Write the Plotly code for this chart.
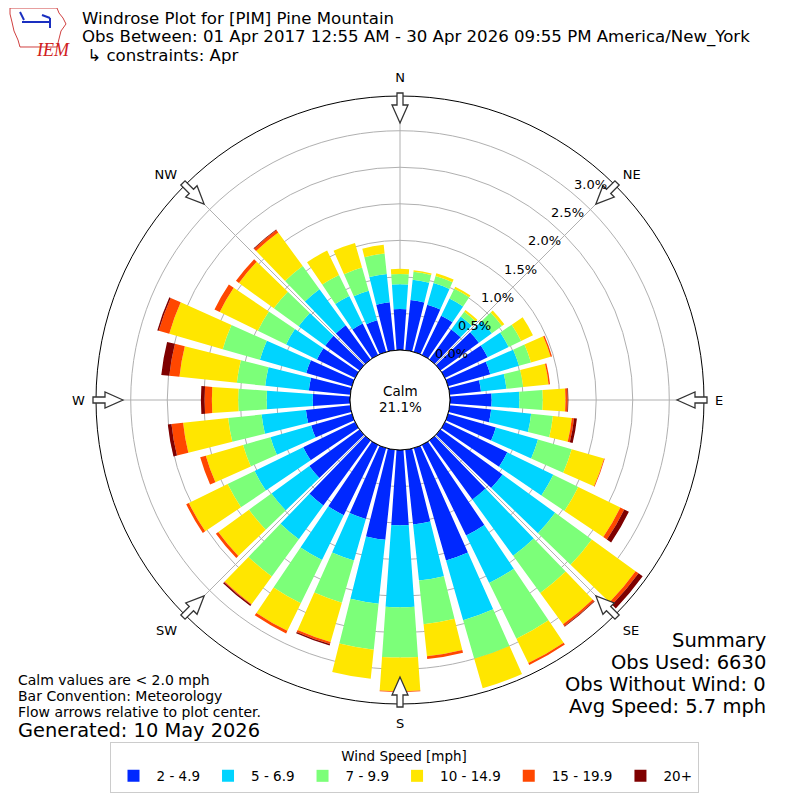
import math
import plotly.graph_objects as go

# wind directions (deg, meteorological) and speed bins
directions = list(range(0, 360, 10))
speed_bins = ['2 - 4.9', '5 - 6.9', '7 - 9.9', '10 - 14.9', '15 - 19.9', '20+']
bin_colors = ['#0028ff', '#00d4ff', '#7cff79', '#ffe600', '#ff4700', '#7f0000']

# frequency [%] per direction for each speed bin
pct_2_5 = [0.56, 0.69, 0.67, 0.60, 0.51, 0.65, 0.65, 0.60, 0.43, 0.57, 0.57, 0.68,
           0.95, 1.05, 1.00, 1.38, 1.60, 1.03, 1.03, 1.24, 1.01, 1.07, 1.10, 0.85,
           0.79, 0.58, 0.61, 0.51, 0.57, 0.65, 0.58, 0.58, 0.58, 0.48, 0.45, 0.66]
pct_5_7 = [0.34, 0.28, 0.31, 0.26, 0.22, 0.22, 0.32, 0.41, 0.35, 0.38, 0.55, 0.60,
           0.70, 0.89, 0.95, 0.72, 0.85, 0.77, 1.12, 0.88, 0.59, 0.68, 0.57, 0.64,
           0.74, 0.58, 0.61, 0.63, 0.60, 0.66, 0.47, 0.45, 0.61, 0.42, 0.42, 0.39]
pct_7_10 = [0.14, 0.11, 0.10, 0.15, 0.08, 0.17, 0.19, 0.17, 0.23, 0.32, 0.30, 0.48,
            0.38, 0.62, 0.63, 0.85, 0.55, 0.60, 0.69, 0.63, 0.60, 0.66, 0.63, 0.38,
            0.41, 0.39, 0.46, 0.39, 0.39, 0.53, 0.43, 0.42, 0.39, 0.32, 0.33, 0.28]
pct_10_15 = [0.07, 0.02, 0.04, 0.03, 0.03, 0.04, 0.18, 0.28, 0.35, 0.31, 0.26, 0.46,
             0.64, 0.74, 0.53, 0.37, 0.42, 0.44, 0.46, 0.40, 0.56, 0.42, 0.47, 0.52,
             0.59, 0.53, 0.62, 0.36, 0.79, 0.76, 0.58, 0.59, 0.57, 0.37, 0.35, 0.12]
pct_15_20 = [0, 0, 0, 0, 0, 0, 0, 0.02, 0.02, 0.03, 0.03, 0.01,
             0.06, 0.05, 0.03, 0.03, 0, 0.04, 0.01, 0, 0.03, 0.04, 0.01, 0.04,
             0.04, 0.08, 0.16, 0.10, 0.14, 0.15, 0.08, 0.05, 0.04, 0, 0, 0]
pct_20_up = [0, 0, 0, 0, 0, 0, 0, 0, 0, 0.01, 0.04, 0,
             0.07, 0.07, 0.01, 0, 0, 0, 0, 0, 0.02, 0, 0.02, 0,
             0, 0, 0.05, 0.05, 0.11, 0.02, 0, 0, 0.01, 0, 0, 0]

radial_ticks = [0.0, 0.5, 1.0, 1.5, 2.0, 2.5, 3.0]
tick_labels = ['0.0%', '0.5%', '1.0%', '1.5%', '2.0%', '2.5%', '3.0%']
compass = ['N', 'NE', 'E', 'SE', 'S', 'SW', 'W', 'NW']
calm_pct = 21.1
r_max = 3.475
label_angle = 39.4  # direction of the radial tick labels

fig = go.Figure()
series = [pct_2_5, pct_5_7, pct_7_10, pct_10_15, pct_15_20, pct_20_up]
for name, vals, col in zip(speed_bins, series, bin_colors):
    fig.add_trace(go.Barpolar(r=vals, theta=directions, width=8, name=name,
                              marker=dict(color=col, line=dict(width=0))))

# the page has an 8px body margin, so the figure is 792px and shifted by 8px
OFF = 8
W = 800 - OFF
cx, cy, R, R_hole = 400, 400, 304, 50


def px(x, y):
    # page pixel -> paper coords
    return (x - OFF) / W, 1 - (y - OFF) / W


dx0, dy1 = px(cx - R, cy - R)
dx1, dy0 = px(cx + R, cy + R)

fig.update_layout(
    width=W, height=W,
    margin=dict(l=0, r=0, t=0, b=0),
    paper_bgcolor='white',
    font=dict(family='DejaVu Sans', size=13, color='black'),
    polar=dict(
        domain=dict(x=[dx0, dx1], y=[dy0, dy1]),
        hole=R_hole / R,
        bgcolor='white',
        barmode='stack',
        radialaxis=dict(range=[0, r_max], tickvals=radial_ticks, showticklabels=False,
                        angle=45, showline=False, ticks='',
                        gridcolor='#b0b0b0', gridwidth=1),
        angularaxis=dict(direction='clockwise', rotation=90,
                         tickmode='array', tickvals=list(range(0, 360, 45)),
                         ticktext=compass, ticks='outside', ticklen=8,
                         tickcolor='rgba(0,0,0,0)', showline=True, linecolor='black',
                         linewidth=1, gridcolor='#b0b0b0', gridwidth=1,
                         tickfont=dict(size=13)),
    ),
    legend=dict(orientation='h', x=0.5, xanchor='center', y=px(0, 742)[1], yanchor='top',
                title=dict(text='Wind Speed [mph]', side='top center', font=dict(size=13.5)),
                bordercolor='#cccccc', borderwidth=1, bgcolor='white',
                font=dict(size=13.5), itemwidth=36),
)

# calm circle
x0, y0 = px(cx - R_hole, cy + R_hole)
x1, y1 = px(cx + R_hole, cy - R_hole)
fig.add_shape(type='circle', xref='paper', yref='paper', x0=x0, y0=y0, x1=x1, y1=y1,
              line=dict(color='black', width=1), fillcolor='white')

# flow arrows at the compass points, pointing to the centre
outline = [(277, 0), (295, 8), (295, 3), (307, 3), (307, -3), (295, -3), (295, -8)]
for ang in range(0, 360, 45):
    a = math.radians(ang)
    ux, uy = math.sin(a), -math.cos(a)
    vx, vy = math.cos(a), math.sin(a)
    pts = []
    for rr, ww in outline:
        X, Y = px(cx + rr * ux + ww * vx, cy + rr * uy + ww * vy)
        pts.append('%.5f %.5f' % (X, Y))
    fig.add_shape(type='path', xref='paper', yref='paper',
                  path='M ' + ' L '.join(pts) + ' Z',
                  line=dict(color='#333333', width=1.3), fillcolor='white')

# radial tick labels (on top of the bars, like matplotlib)
la = math.radians(label_angle)
for v, t in zip(radial_ticks, tick_labels):
    rp = R_hole + v / r_max * (R - R_hole)
    X, Y = px(cx + rp * math.sin(la), cy - rp * math.cos(la))
    fig.add_annotation(x=X, y=Y, xref='paper', yref='paper', text=t, showarrow=False,
                       xanchor='left', yanchor='bottom', xshift=1, yshift=-2,
                       font=dict(size=13))

# IEM logo (rough)
iowa = [(10, 8), (57, 8), (59, 13), (63, 18), (66, 24), (61, 31), (59, 39), (57, 47),
        (20, 47), (18, 40), (14, 31), (12, 22), (10, 14)]
fig.add_shape(type='path', xref='paper', yref='paper',
              path='M ' + ' L '.join('%.5f %.5f' % px(x, y) for x, y in iowa) + ' Z',
              line=dict(color='#d04040', width=1))
for (xa, ya, xb, yb) in [(22, 22, 50, 22), (20, 12, 24, 20), (42, 15, 50, 18), (50, 18, 50, 28)]:
    X0, Y0 = px(xa, ya)
    X1, Y1 = px(xb, yb)
    fig.add_shape(type='line', xref='paper', yref='paper', x0=X0, y0=Y0, x1=X1, y1=Y1,
                  line=dict(color='#1a2fc0', width=2))
fig.add_annotation(x=px(34, 38)[0], y=px(34, 38)[1], xref='paper', yref='paper',
                   text='<i>IEM</i>', showarrow=False,
                   font=dict(family='Liberation Serif', size=18, color='#d02020'))


def label(x, y, text, size, anchor='left'):
    X, Y = px(x, y)
    fig.add_annotation(x=X, y=Y, xref='paper', yref='paper', text=text, showarrow=False,
                       xanchor=anchor, yanchor='middle', font=dict(size=size))


label(80, 19, 'Windrose Plot for [PIM] Pine Mountain', 16.6)
label(80, 37, 'Obs Between: 01 Apr 2017 12:55 AM - 30 Apr 2026 09:55 PM America/New_York', 16.6)
label(80, 55, ' ↳ constraints: Apr', 16.6)

label(16, 680, 'Calm values are < 2.0 mph', 14)
label(16, 696, 'Bar Convention: Meteorology', 14)
label(16, 712, 'Flow arrows relative to plot center.', 14)
label(16, 730, 'Generated: 10 May 2026', 19.4)

label(768, 640, 'Summary', 19.5, 'right')
label(768, 662, 'Obs Used: 6630', 19.5, 'right')
label(768, 684, 'Obs Without Wind: 0', 19.5, 'right')
label(768, 706, 'Avg Speed: 5.7 mph', 19.5, 'right')

label(400, 391, 'Calm', 13.5, 'center')
label(400, 407, '%.1f%%' % calm_pct, 13.5, 'center')

fig.write_html('out.html')
